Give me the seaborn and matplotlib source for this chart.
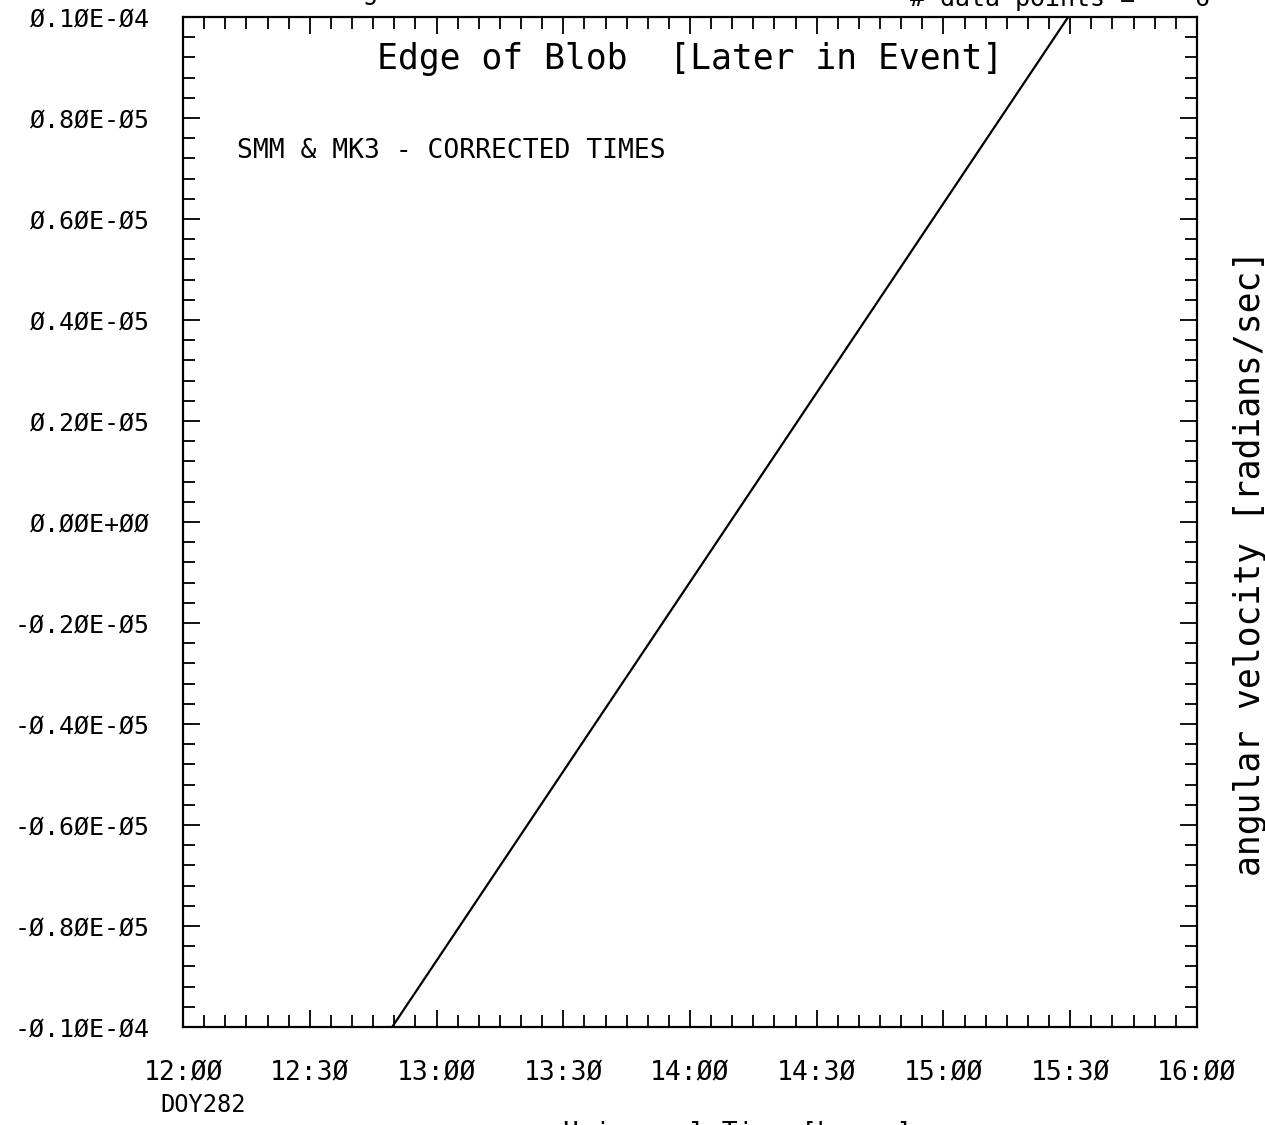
import matplotlib
matplotlib.use("Agg")
import matplotlib.pyplot as plt
import matplotlib.ticker as mticker
import seaborn as sns
import pandas as pd

# fitted line (hours of DOY282, angular velocity in rad/s)
fit_times = [12.825, 15.492]
fit_values = [-1.0e-5, 1.0e-5]

x_ticks = [12.0, 12.5, 13.0, 13.5, 14.0, 14.5, 15.0, 15.5, 16.0]
x_labels = ["12:ØØ", "12:3Ø", "13:ØØ", "13:3Ø", "14:ØØ", "14:3Ø", "15:ØØ", "15:3Ø", "16:ØØ"]
y_ticks = [-1.0e-5, -0.8e-5, -0.6e-5, -0.4e-5, -0.2e-5, 0.0, 0.2e-5, 0.4e-5, 0.6e-5, 0.8e-5, 1.0e-5]
y_labels = ["-Ø.1ØE-Ø4", "-Ø.8ØE-Ø5", "-Ø.6ØE-Ø5", "-Ø.4ØE-Ø5", "-Ø.2ØE-Ø5", "Ø.ØØE+ØØ",
            "Ø.2ØE-Ø5", "Ø.4ØE-Ø5", "Ø.6ØE-Ø5", "Ø.8ØE-Ø5", "Ø.1ØE-Ø4"]

df = pd.DataFrame({"time": fit_times, "omega": fit_values})

sns.set_style("white")
plt.rcParams["font.family"] = ["DejaVu Sans Mono", "DejaVu Sans"]
plt.rcParams["text.color"] = "black"
plt.rcParams["xtick.color"] = "black"
plt.rcParams["ytick.color"] = "black"

fig = plt.figure(figsize=(12.65, 11.25), dpi=100)
ax = fig.add_axes([0.1447, 0.0871, 0.8015, 0.8978])

sns.lineplot(data=df, x="time", y="omega", ax=ax, color="black", linewidth=1.6)

ax.set_xlim(12.0, 16.0)
ax.set_ylim(-1.0e-5, 1.0e-5)
ax.set_xticks(x_ticks)
ax.set_xticklabels(x_labels)
ax.set_yticks(y_ticks)
ax.set_yticklabels(y_labels)
ax.xaxis.set_minor_locator(mticker.MultipleLocator(1 / 12))
ax.yaxis.set_minor_locator(mticker.MultipleLocator(0.04e-5))
ax.set_xlabel("")
ax.set_ylabel("")

ax.tick_params(which="both", direction="in", top=True, right=True, bottom=True, left=True,
               color="black", width=1.3)
ax.tick_params(which="major", length=12)
ax.tick_params(which="minor", length=8.5)
ax.tick_params(axis="x", which="major", pad=24, labelsize=19)
ax.tick_params(axis="y", which="major", pad=24, labelsize=18)
for s in ax.spines.values():
    s.set_color("black")
    s.set_linewidth(1.6)

ax.text(0.5, 0.958, "Edge of Blob  [Later in Event]", transform=ax.transAxes,
        ha="center", va="center", fontsize=25)
ax.text(0.053, 0.867, "SMM & MK3 - CORRECTED TIMES", transform=ax.transAxes,
        ha="left", va="center", fontsize=19)

fig.text(0.988, 0.50, "angular velocity [radians/sec]", rotation=90,
         ha="center", va="center", fontsize=25)
fig.text(160 / 1265, 1 - 1105 / 1125, "DOY282", ha="left", va="center", fontsize=17)
fig.text(1210 / 1265, 1 - 6 / 1125, "# data points =    6", ha="right",
         va="baseline", fontsize=18)
fig.text(378 / 1265, 1 + 1 / 1125, "Linear Fitting", ha="right", va="baseline", fontsize=19)
fig.text(738 / 1265, 1 - 1121 / 1125, "Universal Time [hours]", ha="center",
         va="top", fontsize=19)

fig.savefig("out.png", dpi=100, facecolor="white")
